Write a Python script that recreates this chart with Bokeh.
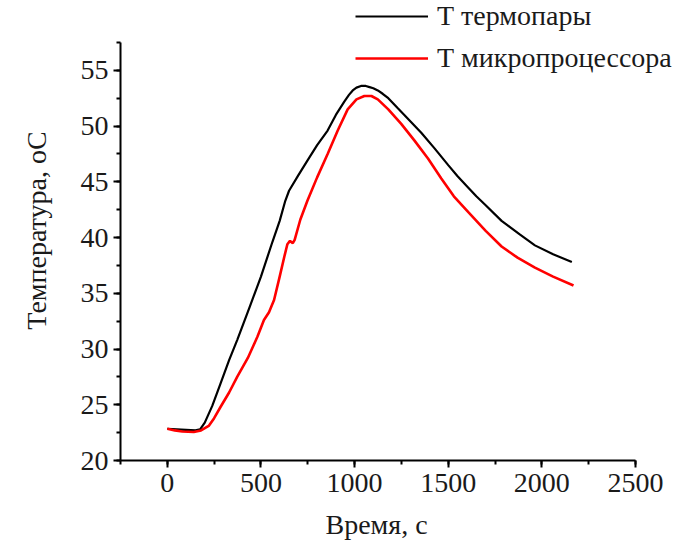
from bokeh.plotting import figure
from bokeh.models import Range1d, Legend, LegendItem, SingleIntervalTicker, Title
from bokeh.embed import file_html
from bokeh.resources import INLINE

# Thermocouple temperature
time_thermo = [0, 50, 100, 150, 175, 200, 240, 284, 330, 373, 436, 500, 561, 600, 630, 650,
               700, 748, 800, 856, 900, 945, 970, 990, 1010, 1034, 1060, 1080, 1100, 1124, 1150,
               1180, 1231, 1300, 1356, 1427, 1500, 1550, 1606, 1650, 1700, 1785, 1880, 1963,
               2060, 2160]
temp_thermo = [22.85, 22.8, 22.75, 22.7, 22.8, 23.4, 24.9, 26.9, 29.0, 30.8, 33.6, 36.5, 39.6, 41.5, 43.3, 44.2,
               45.6, 46.9, 48.3, 49.6, 51.0, 52.2, 52.8, 53.2, 53.45, 53.6, 53.6, 53.5, 53.4, 53.2, 52.9,
               52.5, 51.6, 50.4, 49.4, 48.0, 46.5, 45.5, 44.5, 43.7, 42.9, 41.5, 40.3, 39.3,
               38.5, 37.8]

# Microprocessor temperature
time_mcu = [0, 40, 80, 141, 180, 221, 250, 284, 330, 373, 430, 481, 516, 543, 570, 600, 625, 641,
            655, 670, 680, 710, 748, 800, 856, 910, 963, 1010, 1052, 1090, 1124, 1180, 1249, 1320,
            1392, 1463, 1530, 1606, 1700, 1785, 1870, 1963, 2060, 2169]
temp_mcu = [22.85, 22.7, 22.6, 22.55, 22.7, 23.1, 23.8, 24.8, 26.1, 27.5, 29.2, 31.1, 32.6, 33.3, 34.4, 36.5, 38.3, 39.4,
            39.7, 39.5, 39.8, 41.6, 43.3, 45.4, 47.5, 49.6, 51.5, 52.4, 52.7, 52.7, 52.4, 51.5, 50.2, 48.7,
            47.1, 45.3, 43.7, 42.3, 40.6, 39.2, 38.2, 37.3, 36.5, 35.7]

series_names = ["Т термопары", "Т микропроцессора"]
x_label = "Время, с"
y_label = "Температура, оС"
x_axis_span = (-250, 2500)
y_axis_span = (20, 57.5)

FONT = "Liberation Serif"
TXT = "#1a1a1a"

# frame extends to top/right canvas edges so the legend (drawn above the axes' top) is not clipped;
# the axis lines themselves are bounded to the axis spans
p = figure(width=694, height=552, output_backend="svg", toolbar_location=None,
           x_range=Range1d(-250, 2815.05), y_range=Range1d(20, 61.268),
           min_border_left=120, min_border_right=0, min_border_top=0, min_border_bottom=92)
p.outline_line_color = None
p.xgrid.visible = False
p.ygrid.visible = False
p.background_fill_color = "white"
p.border_fill_color = "white"

r1 = p.line(time_thermo, temp_thermo, line_color="black", line_width=2.2)
r2 = p.line(time_mcu, temp_mcu, line_color="#ff0000", line_width=2.6)

p.xaxis.ticker = SingleIntervalTicker(interval=500, num_minor_ticks=2)
p.yaxis.ticker = SingleIntervalTicker(interval=5, num_minor_ticks=2)
p.xaxis.bounds = x_axis_span
p.yaxis.bounds = y_axis_span

for ax in (p.xaxis[0], p.yaxis[0]):
    ax.axis_line_width = 2
    ax.major_tick_line_width = 2
    ax.minor_tick_line_width = 2
    ax.major_tick_out = 7
    ax.major_tick_in = 0
    ax.minor_tick_out = 4
    ax.minor_tick_in = 0
    ax.major_label_text_font = FONT
    ax.major_label_text_font_size = "28px"
    ax.major_label_text_color = TXT
    ax.axis_label_text_font = FONT
    ax.axis_label_text_font_size = "28px"
    ax.axis_label_text_font_style = "normal"
    ax.axis_label_text_color = TXT

p.xaxis.major_label_standoff = 6
p.yaxis.axis_label = y_label
p.yaxis.major_label_standoff = 5
p.yaxis.axis_label_standoff = 26

# x-axis title placed below the axis, centred under the visible axis span
xt = Title(text=x_label, align="left", offset=205, standoff=25,
           text_font=FONT, text_font_size="28px", text_font_style="normal",
           text_color=TXT)
p.add_layout(xt, "below")

legend = Legend(items=[LegendItem(label=series_names[0], renderers=[r1]),
                       LegendItem(label=series_names[1], renderers=[r2])],
                location=(235, 386))
legend.label_text_font = FONT
legend.label_text_font_size = "28px"
legend.label_text_color = TXT
legend.glyph_width = 73
legend.glyph_height = 28
legend.label_height = 28
legend.label_standoff = 9
legend.spacing = 10
legend.padding = 0
legend.margin = 0
legend.border_line_alpha = 0
legend.background_fill_alpha = 0
p.add_layout(legend, "center")

open("out.html", "w").write(file_html(p, INLINE))
